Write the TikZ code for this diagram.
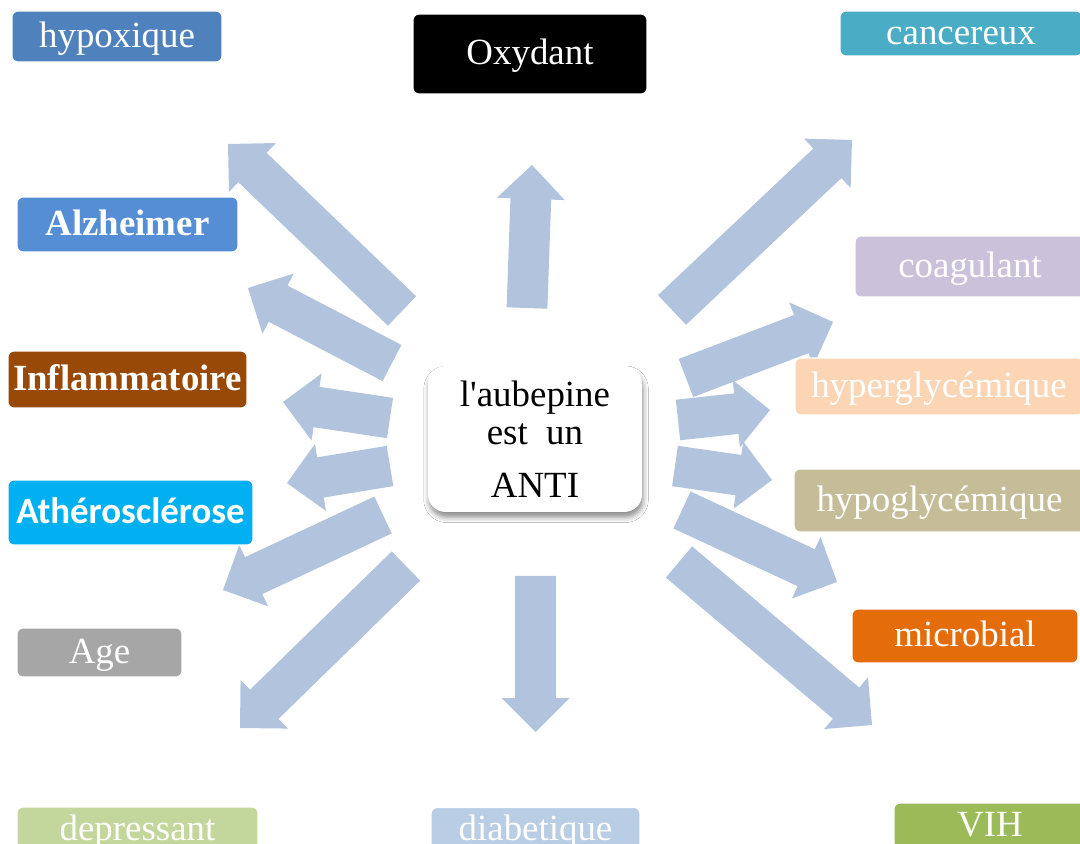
\documentclass[tikz,border=0pt]{standalone}
\usepackage{fontspec}
\setmainfont{Liberation Serif}
\newfontfamily\rawserif{Liberation Serif}
\newfontfamily\carlito{Carlito}
\usetikzlibrary{calc,shadows.blur}
\definecolor{arr}{HTML}{B2C3DE}
\definecolor{cHypox}{HTML}{4F81BD}
\definecolor{cCanc}{HTML}{4BACC6}
\definecolor{cAlz}{HTML}{558ED5}
\definecolor{cCoag}{HTML}{CCC1DA}
\definecolor{cInfl}{HTML}{984807}
\definecolor{cHyper}{HTML}{FCD5B5}
\definecolor{cHypo}{HTML}{C4BD97}
\definecolor{cAthe}{HTML}{00B0F0}
\definecolor{cMicro}{HTML}{E46C0A}
\definecolor{cAge}{HTML}{A6A6A6}
\definecolor{cDep}{HTML}{C3D69B}
\definecolor{cDiab}{HTML}{B9CDE5}
\definecolor{cVIH}{HTML}{9BBB59}
\newcommand\blockarr[2]{%
 \path ($(#2)!19.3pt!(#1)$) coordinate (bah);
 \fill[arr] ($(#1)!11.6pt!90:(#2)$) -- ($(bah)!11.6pt!90:(#2)$) -- ($(bah)!19.3pt!90:(#2)$) -- (#2)
   -- ($(bah)!19.3pt!-90:(#2)$) -- ($(bah)!11.6pt!-90:(#2)$) -- ($(#1)!11.6pt!-90:(#2)$) -- cycle;}
\tikzset{
  lbl/.style={rounded corners=3.5pt, draw=white, line width=0.6pt, text=white, inner sep=0pt,
    font=\fontsize{21}{25}\selectfont, text height=16pt, text depth=3.5pt, align=center},
}
\begin{document}
\begin{tikzpicture}[x=0.02cm,y=-0.02cm]
\useasboundingbox (0,0) rectangle (1080,844);
\clip (0,0) rectangle (1080,844);
\fill[white] (0,0) rectangle (1080,844);
% arrow end points
\coordinate (t1) at (527,308);  \coordinate (h1) at (532,165);
\coordinate (t2) at (402,311);  \coordinate (h2) at (228,144);
\coordinate (t3) at (392,363);  \coordinate (h3) at (248,288);
\coordinate (t4) at (390,418);  \coordinate (h4) at (283,402);
\coordinate (t5) at (390,466);  \coordinate (h5) at (287,483);
\coordinate (t6) at (383,515);  \coordinate (h6) at (223,590);
\coordinate (t7) at (406,566);  \coordinate (h7) at (240,728);
\coordinate (t8) at (535.5,576);\coordinate (h8) at (535.5,732);
\coordinate (t9) at (672,310);  \coordinate (h9) at (852,140);
\coordinate (t10) at (686,378); \coordinate (h10) at (833,322);
\coordinate (t11) at (678,420); \coordinate (h11) at (770,410);
\coordinate (t12) at (675,466); \coordinate (h12) at (772,480);
\coordinate (t13) at (682,510); \coordinate (h13) at (837,582);
\coordinate (t14) at (679,562); \coordinate (h14) at (872,725);
\foreach \i in {1,...,14}{\blockarr{t\i}{h\i}}
% labels
\node[lbl, fill=cHypox, minimum width=4.2cm, minimum height=1.02cm] (hypox) at (117,36.5) {hypoxique};
\node[lbl, fill=black, minimum width=4.68cm, minimum height=1.6cm] (oxy) at (530,54) {Oxydant};
\node[lbl, fill=cCanc, minimum width=4.84cm, minimum height=0.9cm] (canc) at (961,33.5) {cancereux};
\node[lbl, fill=cAlz, minimum width=4.42cm, minimum height=1.1cm] (alz) at (127.5,224.5) {\bfseries Alzheimer};
\node[lbl, fill=cCoag, minimum width=4.6cm, minimum height=1.22cm] (coag) at (970,266.5) {coagulant};
\node[lbl, fill=cInfl, minimum width=4.78cm, minimum height=1.14cm] (infl) at (127.5,379.5) {\bfseries Inflammatoire};
\node[lbl, fill=cHyper, minimum width=5.76cm, minimum height=1.14cm] (hyper) at (939,386.5) {hyperglycémique};
\node[lbl, fill=cHypo, minimum width=5.82cm, minimum height=1.26cm] (hypo) at (939.5,500.5) {hypoglycémique};
\node[lbl, fill=cAthe, minimum width=4.9cm, minimum height=1.3cm] (athe) at (130.5,512.5) {\carlito\bfseries Athérosclérose};
\node[lbl, fill=cMicro, minimum width=4.52cm, minimum height=1.08cm] (micro) at (965,636) {microbial};
\node[lbl, fill=cAge, minimum width=3.3cm, minimum height=0.98cm] (age) at (99.5,652.5) {Age};
\node[lbl, fill=cDep, minimum width=4.82cm, minimum height=0.9cm] (dep) at (137.5,829.5) {depressant};
\node[lbl, fill=cDiab, minimum width=4.18cm, minimum height=0.9cm] (diab) at (535.5,830) {diabetique};
\node[lbl, fill=cVIH, minimum width=3.84cm, minimum height=0.92cm] (vih) at (990,826) {VIH};
% centre
\node[rounded corners=10pt, fill=white, minimum width=4.28cm, minimum height=2.92cm,
  blur shadow={shadow xshift=0.6pt, shadow yshift=-3pt, shadow blur radius=3pt, shadow opacity=45},
  align=center, inner sep=0pt, font=\rawserif\fontsize{21}{22.1}\selectfont] (ctr) at (535,439)
  {l'aubepine\\est\ \ un\\[7.9pt]ANTI};
\end{tikzpicture}
\end{document}
